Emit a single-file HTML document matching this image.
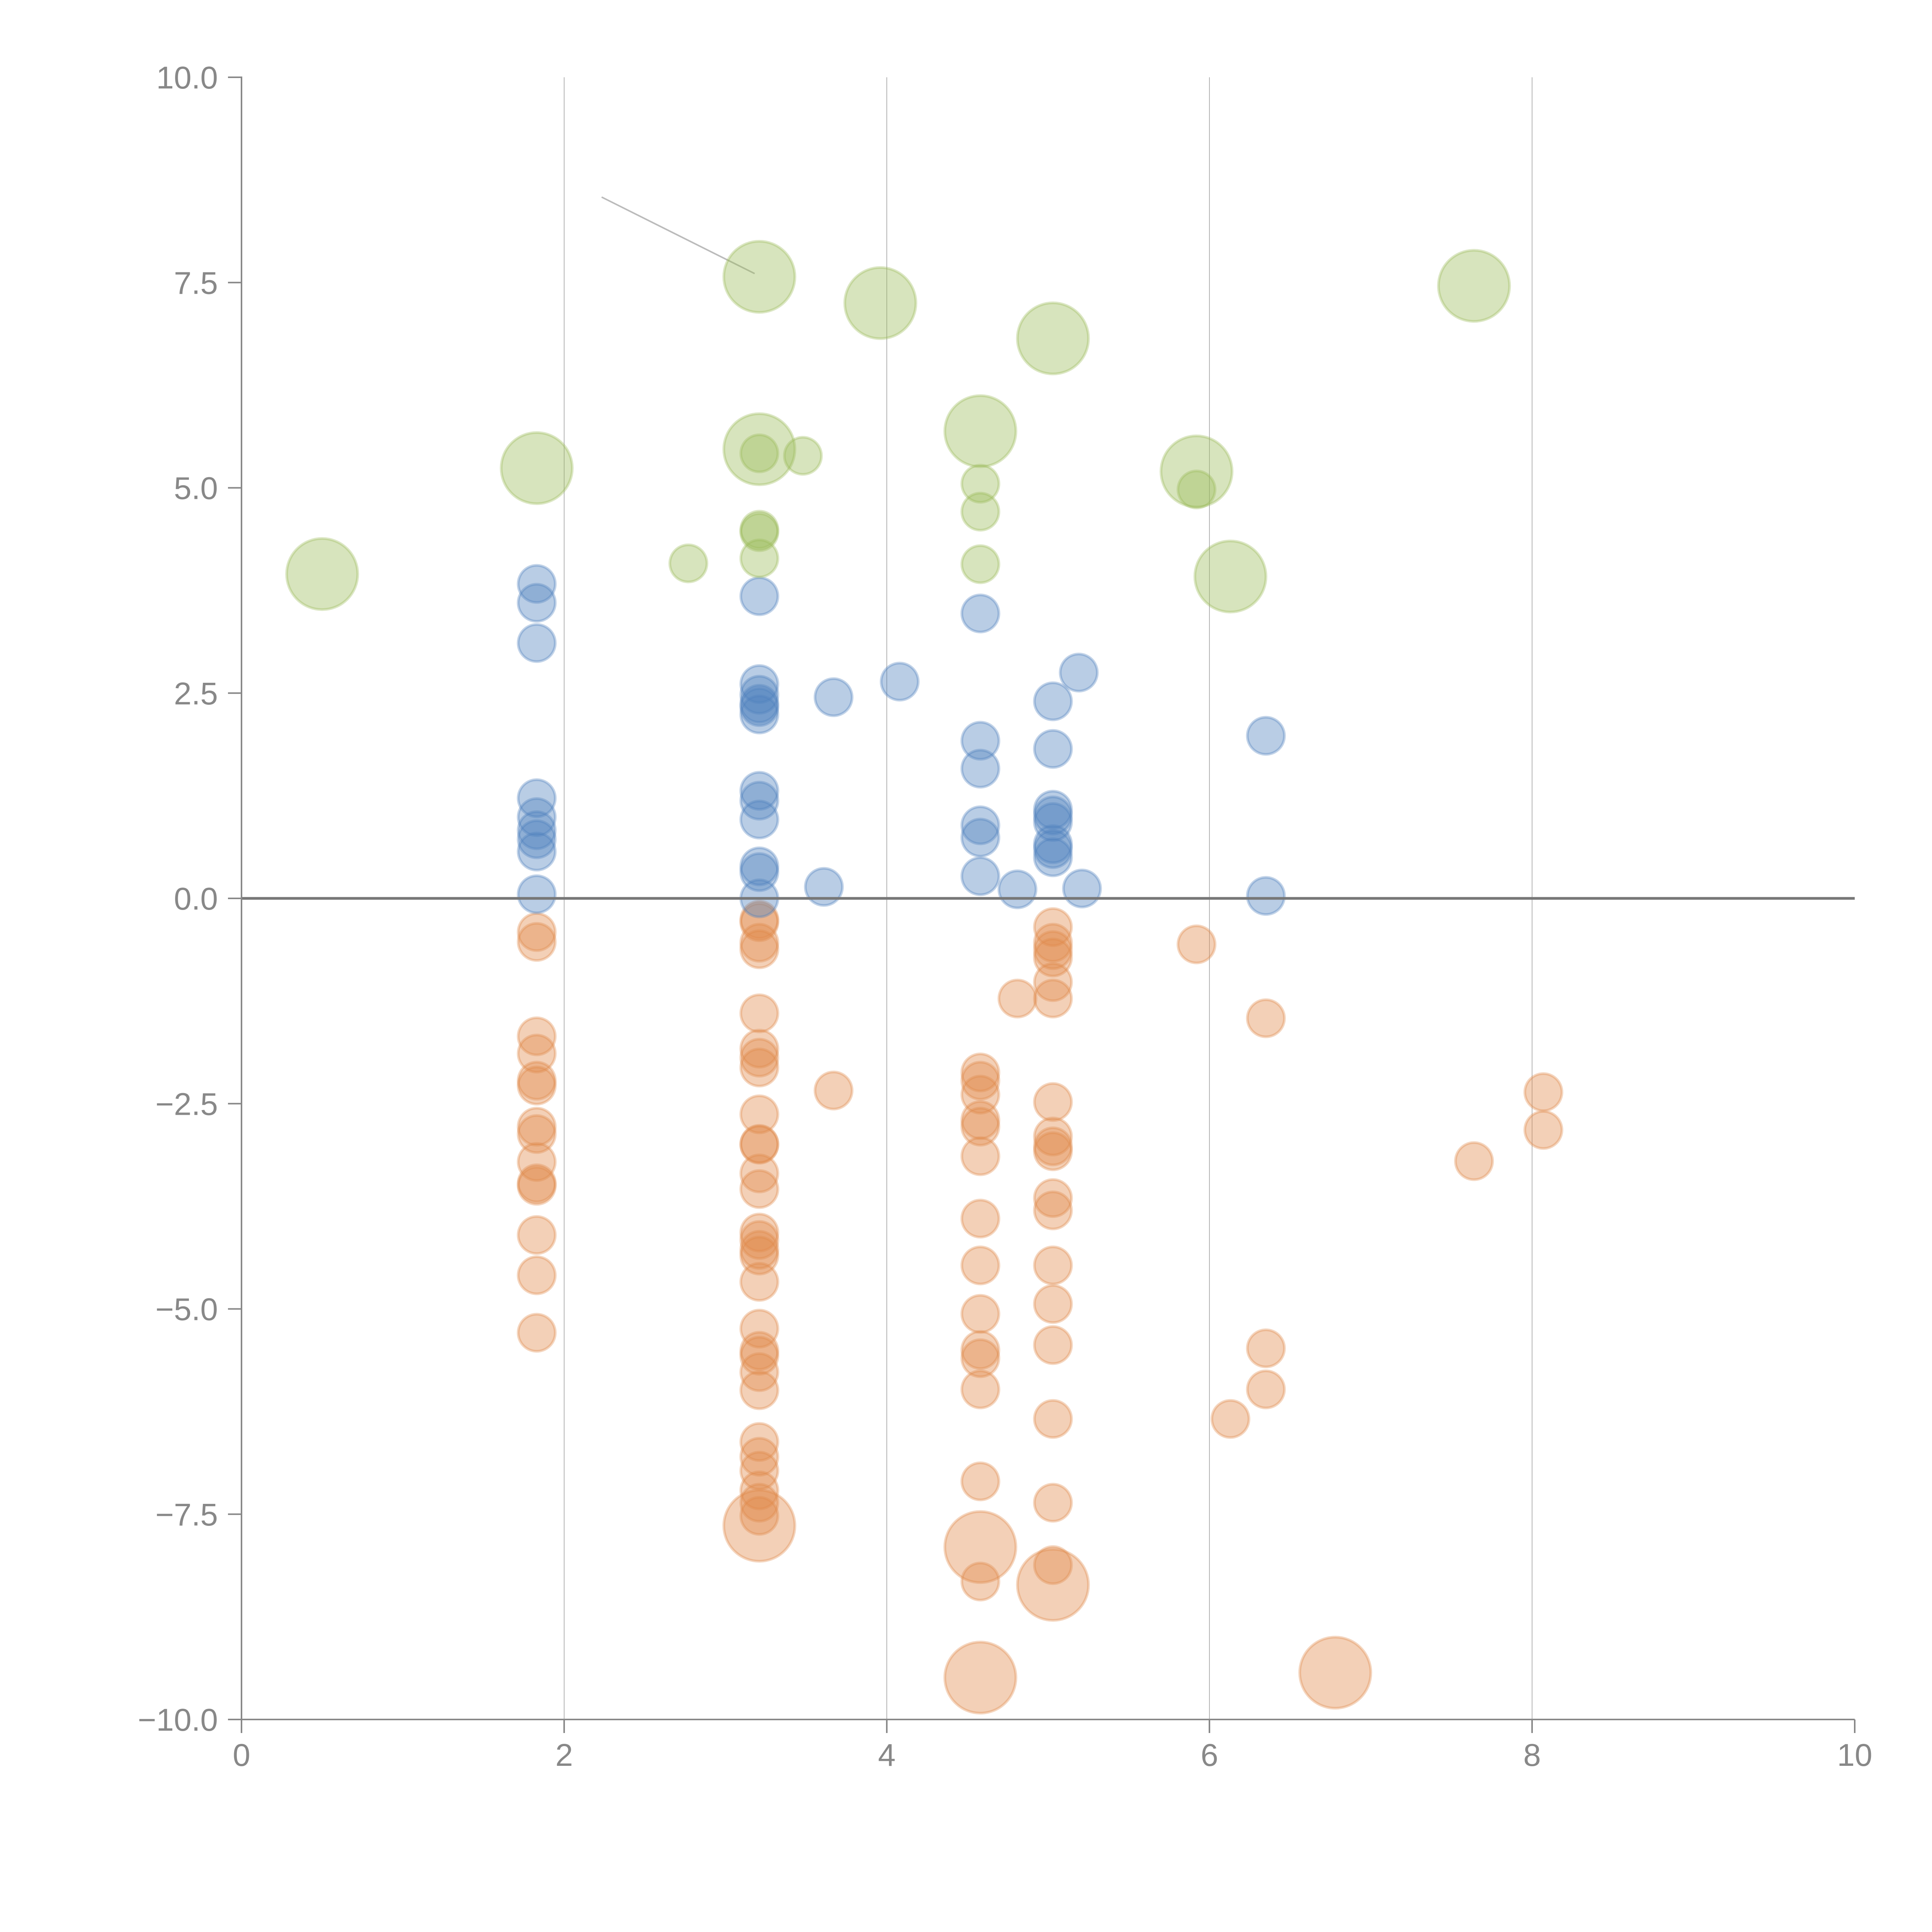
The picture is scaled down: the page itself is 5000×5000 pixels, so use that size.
<!DOCTYPE html>
<html><head><meta charset="utf-8"><style>
html,body{margin:0;padding:0;background:#fff;}
svg{display:block;}
text{font-family:"Liberation Sans",sans-serif;fill:#888;}
</style></head>
<body>
<svg id="chart" width="5000" height="5000" viewBox="0 0 5000 5000" xmlns="http://www.w3.org/2000/svg">
<g id="grid"></g>
<g id="annot"></g>
<g id="bubbles"></g>
<g id="axes"></g>
</svg>
<script>
const xTicks=[0,2,4,6,8,10];
const xTickLabels=["0","2","4","6","8","10"];
const yTicks=[10,7.5,5,2.5,0,-2.5,-5,-7.5,-10];
const yTickLabels=["10.0","7.5","5.0","2.5","0.0","\u22122.5","\u22125.0","\u22127.5","\u221210.0"];

const greenX=[0.50,1.83,3.21,3.21,3.96,4.58,5.03,5.92,6.13,7.64, 2.77,3.21,3.48,3.21,3.21,3.21,4.58,4.58,4.58,5.92];
const greenY=[3.95,5.24,7.57,5.47,7.25,5.69,6.82,5.20,3.92,7.46, 4.08,5.42,5.39,4.49,4.46,4.14,5.05,4.71,4.07,4.98];
const greenSize=[2,2,2,2,2,2,2,2,2,2, 1,1,1,1,1,1,1,1,1,1];

const blueX=[1.83,1.83,1.83,1.83,1.83,1.83,1.83,1.83,1.83,
 3.21,3.21,3.21,3.21,3.21,3.21,3.21,3.21,3.21,3.21,3.21,3.21,
 3.67,4.08,3.61,
 4.58,4.58,4.58,4.58,4.58,4.58,4.81,
 5.03,5.03,5.03,5.03,5.03,5.03,5.03,5.03,5.19,5.21,6.35,6.35];
const blueY=[3.83,3.60,3.11,1.22,0.99,0.83,0.72,0.57,0.05,
 3.68,2.61,2.48,2.37,2.33,2.24,1.31,1.19,0.96,0.39,0.32,0.00,
 2.45,2.64,0.14,
 3.47,1.92,1.58,0.89,0.74,0.27,0.11,
 2.40,1.82,1.08,1.01,0.93,0.66,0.60,0.50,2.75,0.12,1.98,0.03];

const orangeX=[1.83,1.83,1.83,1.83,1.83,1.83,1.83,1.83,1.83,1.83,1.83,1.83,1.83,1.83,
 3.21,3.21,3.21,3.21,3.21,3.21,3.21,3.21,3.21,3.21,3.21,3.21,3.21,3.21,3.21,3.21,3.21,3.21,3.21,3.21,3.21,3.21,3.21,3.21,3.21,3.21,3.21,3.21,3.21,3.21,
 3.67,
 4.58,4.58,4.58,4.58,4.58,4.58,4.58,4.58,4.58,4.58,4.58,4.58,4.58,4.58,4.58,4.58,
 4.81,
 5.03,5.03,5.03,5.03,5.03,5.03,5.03,5.03,5.03,5.03,5.03,5.03,5.03,5.03,5.03,5.03,5.03,5.03,5.03,
 5.92,6.35,6.35,6.35,6.13,6.78,7.64,8.07,8.07];
const orangeY=[-0.41,-0.53,-1.68,-1.89,-2.22,-2.28,-2.78,-2.87,-3.21,-3.47,-3.50,-4.10,-4.59,-5.29,
 -0.26,-0.29,-0.54,-0.62,-1.40,-1.83,-1.94,-2.06,-2.63,-2.99,-3.00,-3.35,-3.54,-4.07,-4.16,-4.28,-4.35,-4.67,-5.24,-5.51,-5.57,-5.77,-5.99,-6.62,-6.80,-6.97,-7.21,-7.36,-7.52,-7.64,
 -2.34,
 -2.12,-2.22,-2.39,-2.70,-2.78,-3.14,-3.90,-4.47,-5.06,-5.50,-5.60,-5.98,-7.10,-8.32,-7.90,-9.49,
 -1.22,
 -0.35,-0.54,-0.63,-0.72,-1.02,-1.22,-2.48,-2.90,-3.02,-3.08,-3.65,-3.80,-4.47,-4.94,-5.44,-6.34,-7.36,-8.12,-8.36,
 -0.56,-1.46,-5.48,-5.98,-6.34,-9.43,-3.20,-2.36,-2.82];
const orangeSize=[1,1,1,1,1,1,1,1,1,1,1,1,1,1,
 1,1,1,1,1,1,1,1,1,1,1,1,1,1,1,1,1,1,1,1,1,1,1,1,1,1,1,1,1,2,
 1,
 1,1,1,1,1,1,1,1,1,1,1,1,1,1,2,2,
 1,
 1,1,1,1,1,1,1,1,1,1,1,1,1,1,1,1,1,1,2,
 1,1,1,1,1,2,1,1,1];

const NS="http://www.w3.org/2000/svg";
const X0=625,X1=4800,Y0=4450,Y1=200;
function sx(v){return X0+(v-0)/(10-0)*(X1-X0);}
function sy(v){return Y0-(v+10)/20*(Y0-Y1);}
function rr(s){return s===2?92:48;}
function mk(tag,attrs,parent){const e=document.createElementNS(NS,tag);for(const k in attrs)e.setAttribute(k,attrs[k]);parent.appendChild(e);return e;}

const grid=document.getElementById('grid');
xTicks.forEach(function(t){
  if(t===0||t===10)return;
  const l=mk('line',{x1:sx(t),x2:sx(t),y1:Y1,y2:Y0,stroke:'#999','stroke-width':1.5},grid);
  
  
});

const annot=document.getElementById('annot');
const al=mk('line',{x1:1557,y1:510,x2:1953,y2:708,stroke:'#bbb','stroke-width':4},annot);



const bub=document.getElementById('bubbles');
function series(xs,ys,sz,col,name){
  const g=mk('g',{},bub);
  
  
  for(let i=0;i<xs.length;i++){
    const c=mk('circle',{cx:sx(xs[i]),cy:sy(ys[i]),r:rr(sz?sz[i]:1),fill:col,'fill-opacity':0.4,stroke:col,'stroke-opacity':0.35,'stroke-width':7},g);
    
    
  }
}
series(orangeX,orangeY,orangeSize,'#e08a4b','orange');
series(blueX,blueY,null,'#4f81bd','blue');
series(greenX,greenY,greenSize,'#9bbb59','green');

const axes=document.getElementById('axes');
const za=mk('line',{x1:X0,x2:X1,y1:sy(0),y2:sy(0),stroke:'#777','stroke-width':7},axes);


const ya=mk('line',{x1:X0,x2:X0,y1:Y1-2,y2:Y0+2,stroke:'#888','stroke-width':4},axes);


const xa=mk('line',{x1:X0,x2:X1,y1:Y0,y2:Y0,stroke:'#888','stroke-width':4},axes);


yTicks.forEach(function(t,i){
  const y=sy(t);
  const tk=mk('line',{x1:X0-35,x2:X0,y1:y,y2:y,stroke:'#888','stroke-width':4},axes);
  
  
  const tx=mk('text',{x:564,y:y+29,'text-anchor':'end','font-size':82},axes);
  tx.textContent=yTickLabels[i];
  
  
});
xTicks.forEach(function(t,i){
  const x=sx(t);
  const tk=mk('line',{x1:x,x2:x,y1:Y0,y2:Y0+35,stroke:'#888','stroke-width':4},axes);
  
  
  const tx=mk('text',{x:x,y:4570,'text-anchor':'middle','font-size':82},axes);
  tx.textContent=xTickLabels[i];
  
  
});
</script>
</body></html>
